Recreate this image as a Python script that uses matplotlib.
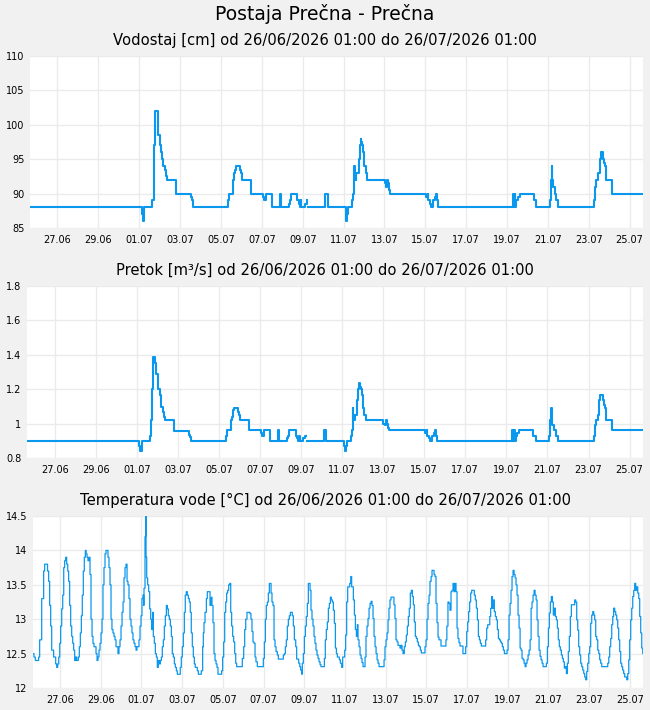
import numpy as np
import matplotlib
matplotlib.use('Agg')
import matplotlib.pyplot as plt

# hours since 26/06/2026 01:00
tick_labels = ['27.06', '29.06', '01.07', '03.07', '05.07', '07.07', '09.07', '11.07',
               '13.07', '15.07', '17.07', '19.07', '21.07', '23.07', '25.07']

level_hours = [0, 131.2, 132.5, 134.2, 143.6, 145.3, 146.5, 147.2, 150.0, 150.7,
               152.7, 153.5, 155.4, 156.6, 158.9, 159.7, 161.3, 171.8, 189.1, 190.6,
               191.8, 232.2, 233.4, 238.8, 240.0, 241.2, 242.3, 246.6, 247.4, 248.6,
               249.4, 253.3, 255.2, 259.2, 274.0, 275.2, 276.8, 284.6, 293.6, 294.8,
               304.2, 305.4, 306.6, 313.9, 316.0, 317.1, 318.0, 318.6, 323.0, 325.0,
               325.6, 326.9, 346.8, 349.6, 370.8, 371.5, 372.7, 373.5, 378.2, 379.4,
               380.6, 381.2, 382.0, 382.6, 383.3, 386.0, 387.2, 388.4, 389.1, 389.9,
               391.1, 392.3, 394.2, 395.8, 416.4, 418.4, 419.2, 420.5, 421.5, 422.7,
               465.4, 467.3, 467.8, 469.5, 471.3, 473.2, 475.2, 477.1, 478.0, 479.1,
               567.2, 568.0, 569.1, 570.0, 571.1, 573.1, 575.0, 591.5, 594.6, 610.3,
               611.5, 612.7, 613.2, 614.2, 616.2, 618.2, 620.1, 662.4, 664.0, 665.1,
               667.5, 669.1, 670.2, 673.0, 674.1, 675.7, 676.9, 683.9, 720.0]
level_cm = [88, 87, 86, 88, 89, 97, 101, 102, 101, 98.5,
            97, 96, 95, 94, 93.5, 92.5, 92, 90, 89.5, 89,
            88, 89, 90, 92, 93, 93.5, 94, 93.5, 93, 92.5,
            92, np.nan, 92, 90, 89.5, 89, 90, 88, 90, 88,
            88.5, 89, 90, 89, 88.5, 88, 89, 88, 88.5, 89,
            np.nan, 88, 90, 88, 87, 86, 87, 88, 89, 90,
            94, 92, 93, 92, 93, 95, 97, 98, 97.5, 97,
            96, 94, 93, 92, 91.5, 91, 92, 91.5, 90.5, 90,
            89.5, 90, 89, 88.5, 88, 89, 89.5, 90, 89, 88,
            90, 88, 90, 88, 89, 89.5, 90, 89, 88, 89,
            92, 94, 92, 91, 90, 89, 88, 89, 91, 92,
            93, 95, 96, 95, 94.5, 94, 92, 90, 90]
flow_m3s = [0.90, 0.87, 0.84, 0.90, 0.93, 1.02, 1.20, 1.39, 1.355, 1.29,
            1.25, 1.20, 1.165, 1.095, 1.07, 1.04, 1.02, 0.957, 0.934, 0.92,
            0.90, 0.93, 0.96, 1.02, 1.04, 1.08, 1.09, 1.07, 1.05, 1.035,
            1.02, np.nan, 1.02, 0.96, 0.945, 0.93, 0.96, 0.90, 0.96, 0.90,
            0.915, 0.93, 0.96, 0.93, 0.915, 0.90, 0.93, 0.90, 0.915, 0.93,
            np.nan, 0.90, 0.96, 0.90, 0.87, 0.84, 0.87, 0.90, 0.93, 0.96,
            1.09, 1.02, 1.05, 1.02, 1.05, 1.135, 1.20, 1.234, 1.215, 1.20,
            1.165, 1.09, 1.05, 1.02, 1.00, 0.99, 1.02, 1.00, 0.975, 0.96,
            0.945, 0.96, 0.93, 0.915, 0.90, 0.93, 0.945, 0.96, 0.93, 0.90,
            0.96, 0.90, 0.96, 0.90, 0.93, 0.945, 0.96, 0.93, 0.90, 0.93,
            1.02, 1.09, 1.02, 0.99, 0.96, 0.93, 0.90, 0.93, 0.99, 1.02,
            1.05, 1.135, 1.165, 1.135, 1.11, 1.09, 1.02, 0.96, 0.96]

temp_points = [
    (0, 12.5), (1.5, 12.45), (3.1, 12.4), (7.0, 12.45), (8.2, 12.7), (10.6, 13.3), (12.9, 13.7),
    (14.1, 13.8), (16.5, 13.8), (17.5, 13.7), (18.8, 13.55), (20.0, 13.2), (21.2, 12.9), (22.4, 12.55),
    (24.7, 12.45), (27.1, 12.35), (28.3, 12.3), (29.5, 12.35), (30.7, 12.45), (31.9, 12.65), (33.0, 12.9),
    (34.2, 13.15), (35.4, 13.35), (36.6, 13.75), (37.7, 13.85), (38.9, 13.9), (40.1, 13.8), (41.3, 13.7),
    (42.4, 13.55), (43.6, 13.2), (44.8, 12.9), (46.0, 12.75), (47.2, 12.65), (48.3, 12.55), (49.5, 12.4),
    (50.7, 12.45), (51.9, 12.4), (53.8, 12.45), (55.0, 12.6), (56.2, 12.8), (57.4, 13.05), (58.5, 13.35),
    (59.7, 13.7), (60.9, 13.9), (62.1, 14.0), (63.0, 13.95), (64.1, 13.9), (65.2, 13.85), (66.4, 13.9),
    (67.6, 13.65), (68.8, 13.0), (70.0, 12.75), (71.1, 12.65), (72.3, 12.6), (74.7, 12.5), (75.9, 12.4),
    (77.0, 12.45), (78.2, 12.55), (79.4, 12.65), (80.6, 12.8), (81.8, 13.0), (82.9, 13.5), (84.1, 13.75),
    (85.3, 13.95), (86.5, 14.0), (88.8, 13.9), (90.0, 13.75), (91.2, 13.5), (92.4, 13.0), (93.5, 12.85),
    (94.7, 12.8), (95.9, 12.75), (97.1, 12.7), (98.3, 12.6), (100.6, 12.5), (101.8, 12.6), (103.0, 12.7),
    (104.2, 12.9), (105.4, 13.1), (106.6, 13.25), (107.7, 13.6), (108.9, 13.75), (110.1, 13.8),
    (111.3, 13.55), (112.4, 13.5), (113.6, 13.3), (114.8, 13.0), (116.0, 12.9), (117.1, 12.8),
    (118.3, 12.7), (119.5, 12.65), (120.7, 12.6), (121.9, 12.55), (123.0, 12.6), (125.4, 12.7),
    (126.6, 12.9), (127.8, 13.05), (128.9, 13.3), (130.1, 13.35), (130.9, 13.2), (131.3, 13.45),
    (132.5, 14.2), (133.3, 14.5), (133.7, 13.9), (134.5, 13.6), (135.6, 13.5), (136.8, 13.4),
    (138.0, 13.15), (139.2, 13.0), (140.3, 12.85), (141.5, 13.1), (142.3, 12.75), (143.5, 12.65),
    (144.7, 12.5), (145.9, 12.45), (147.0, 12.3), (148.2, 12.4), (149.4, 12.35), (150.6, 12.4),
    (151.8, 12.45), (152.9, 12.6), (154.1, 12.7), (155.3, 12.9), (156.5, 13.05), (157.7, 13.2),
    (158.9, 13.15), (160.0, 13.05), (161.2, 13.0), (162.4, 12.9), (163.6, 12.75), (164.7, 12.5),
    (165.9, 12.45), (167.1, 12.35), (168.3, 12.3), (169.5, 12.25), (170.6, 12.2), (174.1, 12.3),
    (175.3, 12.45), (176.5, 12.6), (177.7, 12.8), (178.9, 13.1), (180.0, 13.35), (181.2, 13.4),
    (182.4, 13.35), (183.6, 13.3), (184.8, 13.25), (185.9, 13.1), (187.1, 12.8), (188.3, 12.6),
    (189.5, 12.45), (190.7, 12.35), (191.8, 12.3), (193.0, 12.3), (194.2, 12.25), (195.4, 12.2),
    (198.9, 12.25), (200.5, 12.6), (201.3, 12.8), (202.1, 12.95), (203.3, 13.1), (204.9, 13.3),
    (206.0, 13.4), (208.8, 13.4), (209.2, 13.2), (210.0, 13.3), (210.8, 13.32), (211.5, 13.2),
    (212.7, 12.95), (213.9, 12.5), (215.1, 12.4), (216.3, 12.35), (217.4, 12.3), (218.6, 12.2),
    (222.9, 12.25), (224.1, 12.45), (225.3, 12.67), (226.5, 13.1), (227.7, 13.25), (228.8, 13.38),
    (230.0, 13.42), (231.2, 13.5), (232.4, 13.52), (233.6, 13.1), (234.7, 12.9), (235.9, 12.75),
    (237.1, 12.67), (238.3, 12.5), (239.5, 12.36), (240.6, 12.31), (247.3, 12.43), (248.9, 12.6),
    (250.1, 12.85), (251.3, 13.0), (252.8, 13.1), (256.4, 13.08), (257.5, 13.0), (258.7, 12.82),
    (259.9, 12.67), (261.1, 12.65), (262.3, 12.45), (263.4, 12.38), (265.0, 12.31), (272.1, 12.43),
    (273.3, 12.67), (274.5, 13.0), (275.6, 13.2), (276.8, 13.25), (278.0, 13.38), (279.2, 13.52),
    (281.2, 13.38), (282.3, 13.25), (283.5, 13.2), (284.7, 12.7), (285.9, 12.6), (287.1, 12.53),
    (288.6, 12.48), (289.8, 12.42), (295.7, 12.48), (297.0, 12.5), (298.1, 12.6), (299.2, 12.7),
    (300.4, 12.9), (301.6, 13.0), (302.8, 13.05), (304.0, 13.1), (306.3, 13.05), (307.5, 12.9),
    (308.7, 12.7), (310.3, 12.6), (311.4, 12.42), (313.8, 12.36), (315.0, 12.31), (316.1, 12.26),
    (317.3, 12.2), (318.1, 12.36), (319.3, 12.5), (320.5, 12.75), (321.7, 12.9), (322.8, 13.04),
    (324.0, 13.23), (325.2, 13.52), (327.2, 13.42), (328.3, 13.13), (329.5, 13.0), (330.7, 12.9),
    (331.9, 12.75), (333.0, 12.65), (334.2, 12.55), (335.4, 12.48), (336.6, 12.43), (337.8, 12.38),
    (339.0, 12.34), (340.1, 12.31), (344.1, 12.43), (345.2, 12.7), (346.4, 12.85), (347.6, 12.96),
    (348.8, 13.16), (350.0, 13.23), (351.2, 13.32), (352.3, 13.28), (353.5, 13.25), (354.7, 13.13),
    (355.9, 12.94), (357.1, 12.58), (358.3, 12.5), (359.4, 12.45), (361.8, 12.41), (363.0, 12.36),
    (364.5, 12.3), (365.7, 12.45), (368.1, 12.55), (369.2, 12.77), (370.4, 13.25), (371.6, 13.47),
    (374.0, 13.52), (375.2, 13.62), (376.3, 13.47), (378.3, 13.28), (379.5, 13.06), (380.7, 12.85),
    (381.9, 12.75), (383.0, 12.92), (383.8, 12.7), (385.0, 12.6), (386.2, 12.48), (387.4, 12.43),
    (388.5, 12.37), (389.7, 12.31), (392.1, 12.45), (393.2, 12.75), (394.4, 12.9), (395.6, 13.01),
    (396.8, 13.16), (398.0, 13.23), (399.2, 13.26), (400.3, 13.2), (401.5, 13.01), (402.7, 12.75),
    (403.9, 12.6), (405.1, 12.5), (406.3, 12.41), (407.4, 12.36), (408.6, 12.31), (414.5, 12.41),
    (415.6, 12.6), (416.8, 12.7), (418.0, 12.8), (419.2, 12.99), (420.3, 13.16), (421.5, 13.28),
    (422.7, 13.32), (426.2, 13.21), (427.4, 13.01), (428.6, 12.7), (429.8, 12.67), (431.0, 12.62),
    (433.3, 12.58), (434.5, 12.62), (435.7, 12.55), (436.9, 12.5), (438.4, 12.6), (439.6, 12.67),
    (440.8, 12.77), (442.0, 12.9), (443.2, 13.04), (444.3, 13.16), (445.5, 13.38), (446.7, 13.42),
    (447.9, 13.33), (449.1, 13.21), (450.2, 12.96), (451.4, 12.75), (452.6, 12.72), (453.8, 12.67),
    (455.0, 12.62), (456.1, 12.6), (457.3, 12.55), (458.5, 12.51), (462.8, 12.6), (464.0, 12.7),
    (465.2, 13.0), (466.4, 13.23), (467.6, 13.35), (468.7, 13.55), (470.0, 13.62), (471.1, 13.71),
    (472.3, 13.71), (473.5, 13.65), (474.6, 13.62), (475.8, 13.23), (477.0, 12.95), (478.2, 12.74),
    (479.3, 12.7), (481.7, 12.61), (487.5, 12.7), (488.6, 12.9), (489.9, 13.25), (491.1, 13.23),
    (492.3, 13.13), (493.5, 13.4), (494.7, 13.42), (495.9, 13.52), (497.0, 13.4), (498.2, 13.52),
    (499.4, 13.4), (500.6, 12.87), (501.7, 12.72), (502.9, 12.66), (504.1, 12.61), (507.6, 12.5),
    (510.8, 12.6), (512.0, 12.82), (513.2, 12.96), (514.3, 13.11), (515.5, 13.25), (516.7, 13.38),
    (517.9, 13.42), (521.0, 13.35), (522.2, 13.28), (523.4, 13.16), (524.6, 12.99), (525.8, 12.75),
    (527.0, 12.7), (528.1, 12.65), (529.3, 12.61), (534.4, 12.7), (535.6, 12.87), (536.8, 12.92),
    (539.2, 13.04), (540.3, 13.16), (541.5, 13.33), (542.3, 13.16), (543.5, 13.28), (544.6, 13.11),
    (545.8, 13.04), (547.0, 12.99), (548.2, 12.85), (549.4, 12.72), (550.6, 12.7), (551.8, 12.67),
    (553.0, 12.65), (554.1, 12.6), (555.3, 12.55), (556.5, 12.5), (559.6, 12.55), (560.8, 12.7),
    (562.0, 13.06), (563.2, 13.23), (564.3, 13.42), (565.5, 13.62), (566.7, 13.71), (567.9, 13.65),
    (569.1, 13.6), (570.2, 13.5), (571.4, 13.35), (572.6, 13.06), (573.8, 12.87), (575.0, 12.58),
    (576.2, 12.55), (577.3, 12.43), (578.5, 12.41), (579.7, 12.36), (580.9, 12.31), (582.0, 12.36),
    (583.2, 12.41), (584.4, 12.48), (585.6, 12.55), (586.8, 12.7), (588.0, 13.16), (589.1, 13.25),
    (590.3, 13.35), (591.5, 13.42), (592.7, 13.35), (593.9, 13.28), (595.0, 12.99), (596.2, 12.75),
    (597.4, 12.55), (598.6, 12.46), (599.7, 12.41), (600.9, 12.36), (602.1, 12.31), (606.0, 12.36),
    (607.2, 12.6), (608.4, 12.87), (609.5, 13.09), (610.7, 13.25), (611.9, 13.33), (613.1, 13.25),
    (614.2, 13.06), (615.4, 13.16), (616.6, 13.04), (617.8, 12.99), (619.0, 12.87), (620.1, 12.7),
    (621.3, 12.6), (622.5, 12.55), (623.7, 12.48), (624.9, 12.43), (626.0, 12.38), (627.2, 12.29),
    (628.4, 12.31), (629.6, 12.21), (630.8, 12.36), (631.9, 12.53), (633.1, 12.75), (634.3, 13.04),
    (635.5, 13.21), (639.4, 13.28), (640.6, 13.25), (641.8, 12.99), (643.0, 12.84), (644.1, 12.6),
    (645.3, 12.48), (646.5, 12.36), (647.7, 12.31), (648.9, 12.26), (650.1, 12.21), (651.2, 12.16),
    (652.4, 12.12), (653.6, 12.24), (654.8, 12.36), (656.0, 12.5), (657.1, 12.6), (658.3, 12.94),
    (659.5, 13.06), (660.7, 13.11), (661.9, 13.06), (663.0, 12.99), (664.2, 12.75), (665.4, 12.7),
    (666.6, 12.55), (667.8, 12.5), (668.9, 12.41), (670.1, 12.36), (671.3, 12.31), (678.4, 12.36),
    (679.6, 12.45), (680.7, 12.6), (681.9, 12.72), (683.1, 12.92), (684.3, 13.04), (685.4, 13.16),
    (686.6, 13.11), (687.8, 13.06), (689.0, 12.99), (690.2, 12.87), (691.3, 12.7), (692.5, 12.53),
    (693.7, 12.36), (694.9, 12.31), (696.0, 12.26), (697.2, 12.21), (698.4, 12.16), (700.8, 12.12),
    (702.0, 12.21), (703.2, 12.41), (704.3, 12.7), (705.5, 12.99), (706.7, 13.16), (707.9, 13.33),
    (709.1, 13.42), (710.2, 13.52), (711.4, 13.42), (712.6, 13.47), (713.8, 13.38), (715.0, 13.3),
    (716.1, 13.04), (717.3, 12.8), (718.5, 12.58), (719.7, 12.5), (720.0, 12.5),
]
temp_hours = [p[0] for p in temp_points]
temp_c = [p[1] for p in temp_points]

W, H = 650, 710
BG = '#f1f1f1'
LINE = '#0a97ee'
GRID = '#ebebeb'

fig = plt.figure(figsize=(W / 100, H / 100), dpi=100, facecolor=BG)

def add_ax(left, top, right, bottom):
    return fig.add_axes([left / W, 1 - bottom / H, (right - left) / W, (bottom - top) / H])

def style(ax, yticks, ylabels):
    ax.set_facecolor('white')
    for s in ax.spines.values():
        s.set_visible(False)
    ax.set_xlim(0, 720)
    ax.set_ylim(yticks[0], yticks[-1])
    ax.set_xticks(32.3 + 48 * np.arange(len(tick_labels)))
    ax.set_xticklabels(tick_labels)
    ax.set_yticks(yticks)
    ax.set_yticklabels(ylabels)
    ax.tick_params(length=0, labelsize=7, colors='black')
    ax.tick_params(axis='x', pad=5)
    ax.tick_params(axis='y', pad=4)
    ax.grid(True, color=GRID, linewidth=1)
    ax.set_axisbelow(True)

fig.text(0.5, 1 - 14 / H, 'Postaja Prečna - Prečna', ha='center', va='center', fontsize=13.5)

fig.text(0.5, 1 - 40 / H, 'Vodostaj [cm] od 26/06/2026 01:00 do 26/07/2026 01:00',
         ha='center', va='center', fontsize=10.6)
ax1 = add_ax(30, 56, 643, 228)
style(ax1, [85, 90, 95, 100, 105, 110], ['85', '90', '95', '100', '105', '110'])
ax1.plot(level_hours, level_cm, drawstyle='steps-post', color=LINE, lw=1.5)

fig.text(0.5, 1 - 270 / H, 'Pretok [m³/s] od 26/06/2026 01:00 do 26/07/2026 01:00',
         ha='center', va='center', fontsize=10.6)
ax2 = add_ax(27, 286, 643, 458)
style(ax2, [0.8, 1.0, 1.2, 1.4, 1.6, 1.8], ['0.8', '1', '1.2', '1.4', '1.6', '1.8'])
ax2.plot(level_hours, flow_m3s, drawstyle='steps-post', color=LINE, lw=1.5)

fig.text(0.5, 1 - 500 / H, 'Temperatura vode [°C] od 26/06/2026 01:00 do 26/07/2026 01:00',
         ha='center', va='center', fontsize=10.6)
ax3 = add_ax(32.7, 516, 643, 688)
style(ax3, [12, 12.5, 13, 13.5, 14, 14.5], ['12', '12.5', '13', '13.5', '14', '14.5'])
ax3.plot(temp_hours, temp_c, drawstyle='steps-post', color=LINE, lw=0.9)

fig.savefig('out.png', dpi=100, facecolor=BG)
